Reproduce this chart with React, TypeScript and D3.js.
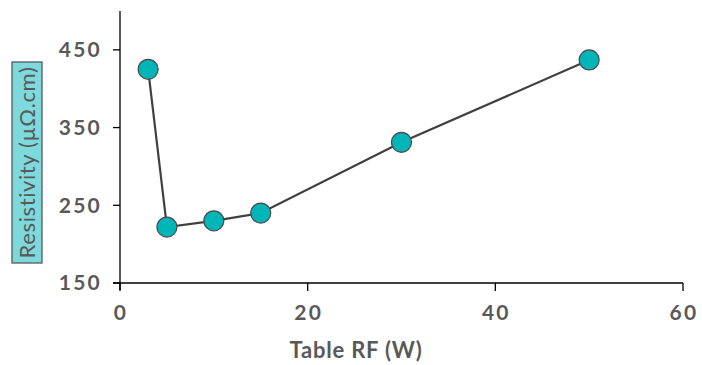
import React from "react";
import * as d3 from "d3";

const rfPower = [3, 5, 10, 15, 30, 50];
const resistivity = [425, 222, 230, 240, 331, 437];
const xTicks = [0, 20, 40, 60];
const yTicks = [150, 250, 350, 450];

const W = 702;
const H = 365;
const left = 120;
const right = 683;
const top = 11;
const bottom = 283;

export default function App() {
  const x = d3.scaleLinear().domain([0, 60]).range([left, right]);
  const y = d3.scaleLinear().domain([150, 500]).range([bottom, top]);
  const pts = rfPower.map((v, i) => [v, resistivity[i]] as [number, number]);
  const path = d3
    .line<[number, number]>()
    .x((d) => x(d[0]))
    .y((d) => y(d[1]))(pts);

  const tickFont = {
    fontFamily: "Lato, 'Open Sans', sans-serif",
    fontWeight: 700,
    fontSize: 21,
    letterSpacing: 2.2,
    fill: "#595959",
  };

  return (
    <svg
      width={W}
      height={H}
      style={{ position: "absolute", left: 0, top: 0, background: "#fff" }}
    >
      {/* axes */}
      <line x1={left} x2={left} y1={top} y2={bottom + 7} stroke="#000" strokeWidth={1.3} />
      <line x1={left - 7} x2={right} y1={bottom} y2={bottom} stroke="#000" strokeWidth={1.3} />
      {yTicks.map((t) => (
        <g key={t}>
          <line x1={left - 7} x2={left} y1={y(t)} y2={y(t)} stroke="#000" strokeWidth={1.3} />
          <text x={102} y={y(t)} dy="0.35em" textAnchor="end" {...tickFont}>
            {t}
          </text>
        </g>
      ))}
      {xTicks.map((t) => (
        <g key={t}>
          <line x1={x(t)} x2={x(t)} y1={bottom} y2={bottom + 8} stroke="#000" strokeWidth={1.3} />
          <text x={x(t) + 1} y={313} dy="0.35em" textAnchor="middle" {...tickFont}>
            {t}
          </text>
        </g>
      ))}
      <text
        x={356}
        y={350}
        dy="0.35em"
        textAnchor="middle"
        {...tickFont}
        fontSize={22}
        letterSpacing={0.8}
      >
        Table RF (W)
      </text>

      {/* y label */}
      <rect x={12} y={62} width={30} height={201} fill="#7dd9dc" stroke="#595959" strokeWidth={1.3} />
      <text
        transform={`translate(27,162.5) rotate(-90)`}
        dy="0.35em"
        textAnchor="middle"
        fontFamily="Lato, 'Open Sans', sans-serif"
        fontSize={22}
        letterSpacing={0.6}
        fill="#595959"
      >
        Resistivity (µΩ.cm)
      </text>

      <path d={path ?? ""} fill="none" stroke="#404040" strokeWidth={2.2} />
      {pts.map((d, i) => (
        <circle
          key={i}
          cx={x(d[0])}
          cy={y(d[1])}
          r={10}
          fill="#00b5b8"
          stroke="#4a4a4a"
          strokeWidth={1.2}
        />
      ))}
    </svg>
  );
}
